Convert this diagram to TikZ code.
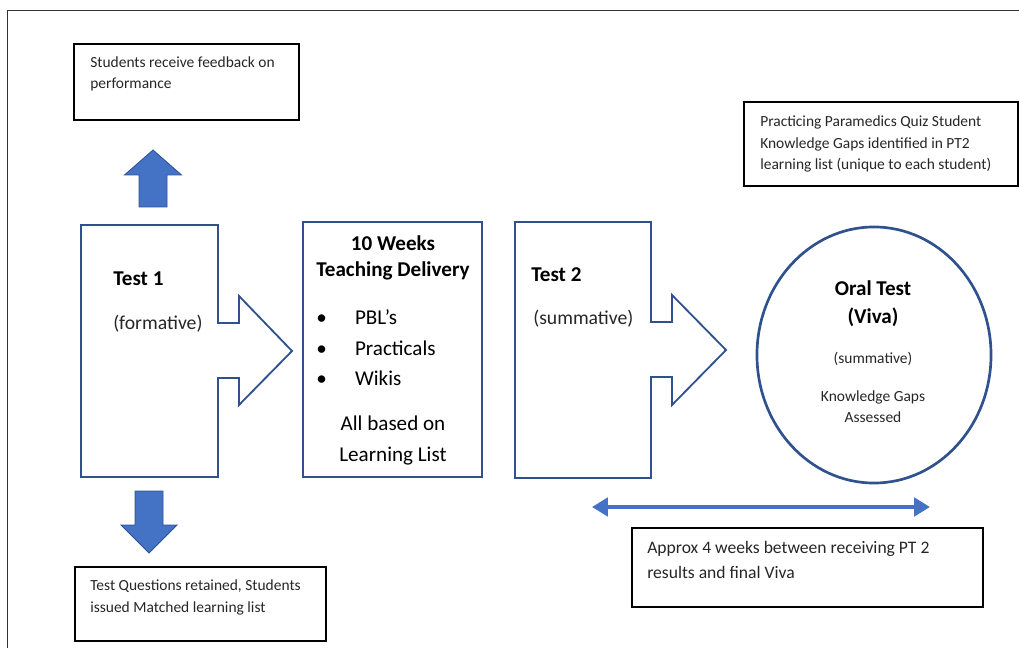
\documentclass[tikz,border=0pt]{standalone}
\usepackage{fontspec}
\setmainfont{Carlito}
\usetikzlibrary{positioning,fit,shapes.geometric,arrows.meta}

\definecolor{blockblue}{HTML}{4472C4}
\definecolor{edgeblue}{HTML}{2F528F}
\definecolor{ink}{HTML}{262626}

\tikzset{
  notebox/.style={draw=black, line width=1.3pt, inner sep=0pt},
  note/.style={anchor=base west, inner sep=0pt, align=left, text=ink, font=\fontsize{11}{15.6}\selectfont},
  bignote/.style={note, font=\fontsize{12.5}{17.7}\selectfont},
  testshape/.style={draw=edgeblue, line width=1.3pt, line join=miter},
  blockarrow/.style={fill=blockblue, draw=edgeblue, line width=0.6pt},
  heavyline/.style={draw=edgeblue, line width=1.9pt, inner sep=0pt},
  title/.style={inner sep=0pt, text=black, font=\bfseries\fontsize{15}{19.1}\selectfont},
  plain/.style={inner sep=0pt, text=ink, font=\fontsize{14}{20}\selectfont},
  listtext/.style={inner sep=0pt, text=black, font=\fontsize{15}{22}\selectfont},
}

\begin{document}
\begin{tikzpicture}[x=0.025cm, y=-0.025cm]
\useasboundingbox (0,0) rectangle (1019,648);
% page frame
\draw[black!80, line width=0.7pt] (7,648) -- (7,10) -- (1019,10);

% feedback after test 1 (multi-line texts sit on their last baseline)
\node[notebox, fit={(74,44) (299,120)}] (feedback) {};
\node[note] (feedbacktxt) at (90,89) {Students receive feedback on\\performance};
\draw[blockarrow] (139,207) -- (139,175) -- (124.5,175) -- (153,150) -- (181.5,175) -- (167,175) -- (167,207) -- cycle;

% test 1
\draw[testshape] (81,225) -- (218,225) -- (218,323) -- (239,323) -- (239,296) -- (292,351)
  -- (239,405) -- (239,378) -- (218,378) -- (218,477) -- (81,477) -- cycle;
\node[title, anchor=base west] (test1) at (113,286) {Test 1};
\node[plain, anchor=base west] (test1kind) at (113,330) {(formative)};

% learning list issued
\draw[blockarrow] (135,491) -- (163,491) -- (163,525) -- (177,525) -- (149,553) -- (121,525) -- (135,525) -- cycle;
\node[notebox, fit={(75,567) (326,641)}] (retained) {};
\node[note] (retainedtxt) at (90,612) {Test Questions retained, Students\\issued Matched learning list};

% teaching block
\node[heavyline, fit={(303,222) (482,477)}] (teaching) {};
\node[title, align=center, anchor=base] (teachhead) at (393,277) {10 Weeks\\Teaching Delivery};
\node[listtext, align=left, anchor=base west] (teachlist) at (316,386)
  {\makebox[27.6pt][l]{\textbullet}PBL’s\\\makebox[27.6pt][l]{\textbullet}Practicals\\\makebox[27.6pt][l]{\textbullet}Wikis};
\node[listtext, align=center, anchor=base] (teachfoot) at (393,461) {All based on\\Learning List};

% test 2
\draw[testshape] (515,222) -- (651,222) -- (651,322) -- (672,322) -- (672,295) -- (726,350)
  -- (672,405) -- (672,377) -- (651,377) -- (651,478) -- (515,478) -- cycle;
\node[title, anchor=base west] (test2) at (531,282) {Test 2};
\node[plain, anchor=base west] (test2kind) at (533,325) {(summative)};

% viva
\node[ellipse, heavyline, minimum width=5.85cm, minimum height=6.4cm] (viva) at (874,355) {};
\node[title, align=center, anchor=base, font=\bfseries\fontsize{15}{20.5}\selectfont] (vivahead) at (873,324) {Oral Test\\(Viva)};
\node[note, align=center, anchor=base] (vivakind) at (873,364) {(summative)};
\node[note, align=center, anchor=base, font=\fontsize{11}{15}\selectfont] (vivagaps) at (873,423) {Knowledge Gaps\\Assessed};

% quiz note
\node[notebox, fit={(744,102) (1018,186)}] (quiz) {};
\node[note] (quiztxt) at (760,170) {Practicing Paramedics Quiz Student\\Knowledge Gaps identified in PT2\\learning list (unique to each student)};

% time span
\coordinate (spanstart) at (592,507);
\coordinate (spanend) at (930,507);
\draw[blockblue, line width=3.5pt, {Triangle[length=11.3pt,width=13pt]}-{Triangle[length=11.3pt,width=13pt]}] (spanstart) -- (spanend);
\node[notebox, fit={(632,528) (983,607)}] (weeks) {};
\node[bignote] (weekstxt) at (647,578) {Approx 4 weeks between receiving PT 2\\results and final Viva};
\end{tikzpicture}
\end{document}
